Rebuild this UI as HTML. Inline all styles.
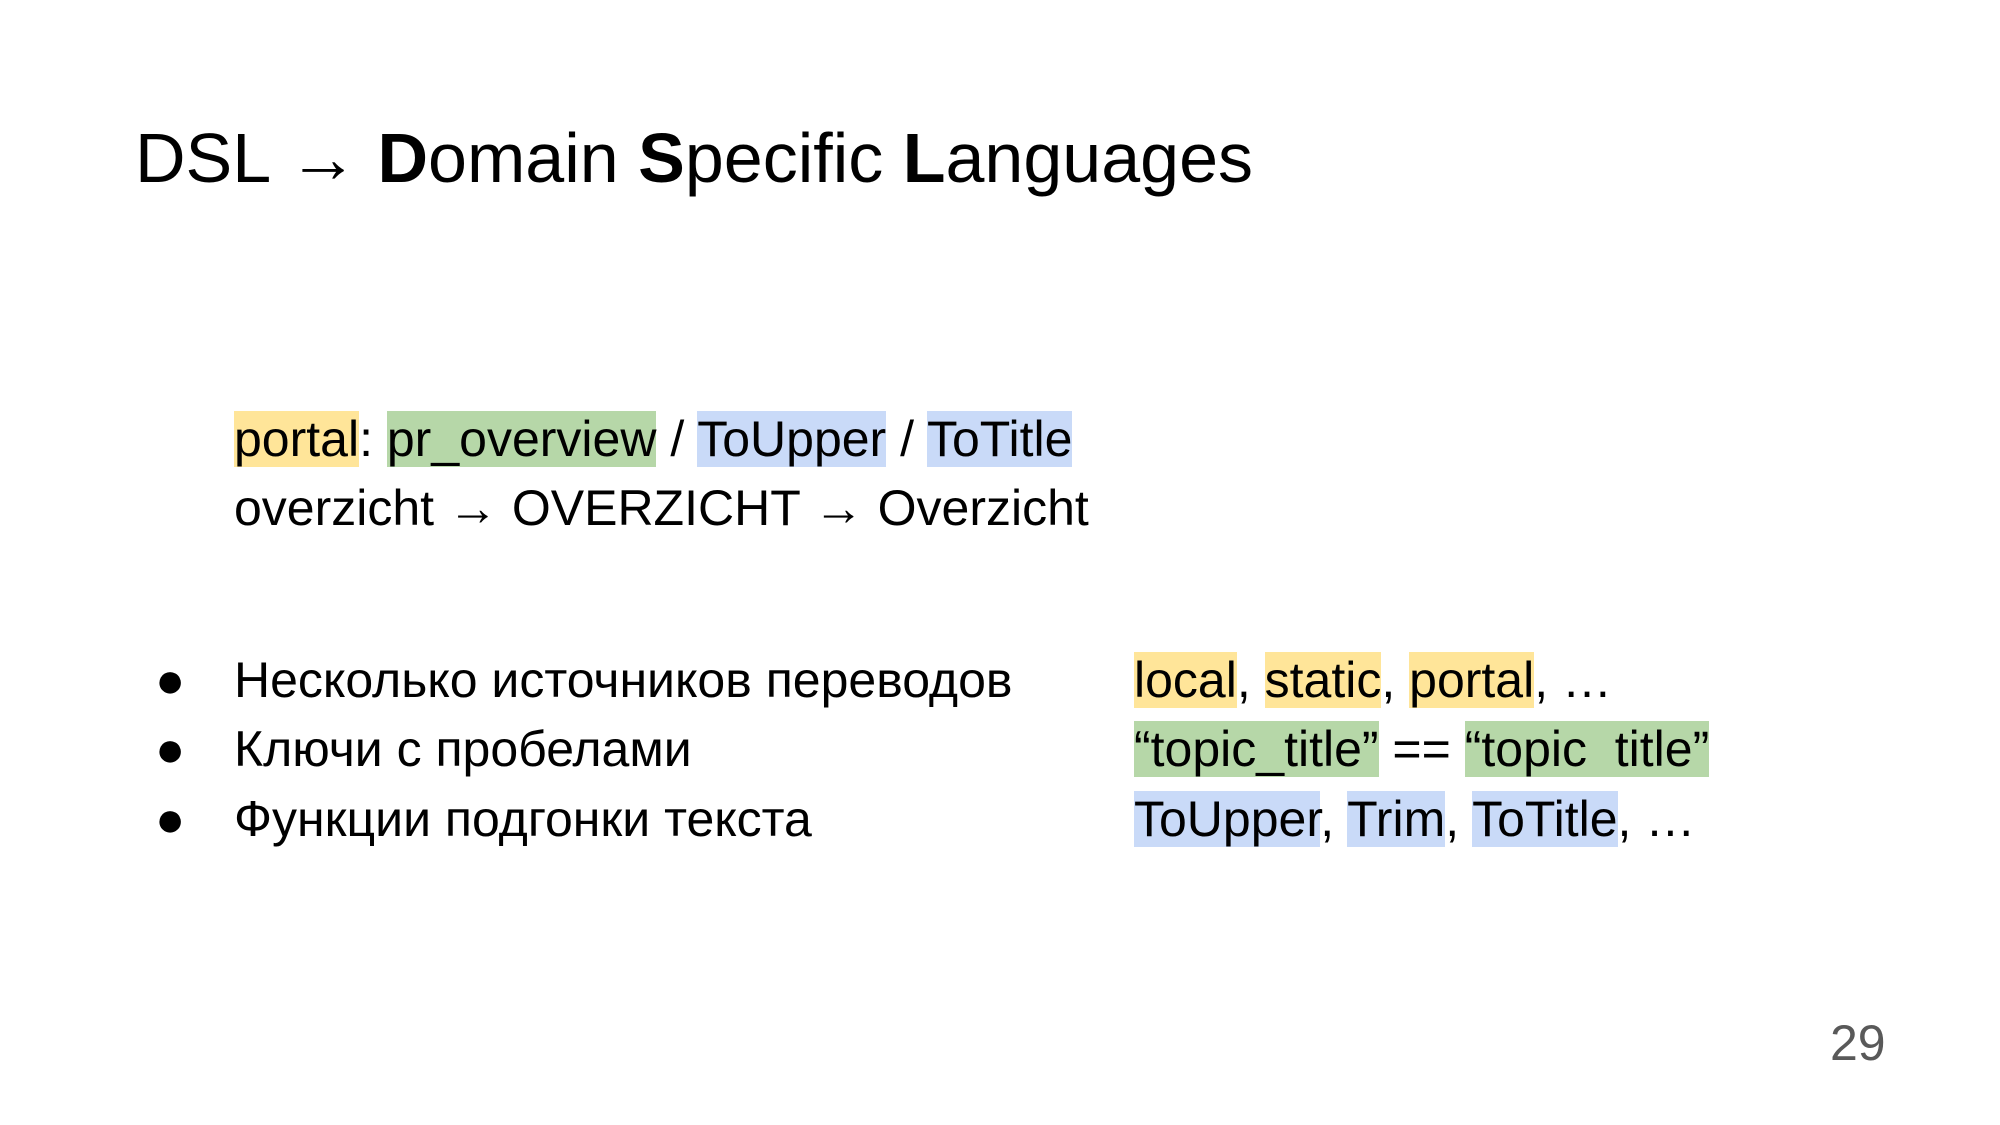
<!DOCTYPE html>
<html><head><meta charset="utf-8"><style>
body{margin:0;width:2000px;height:1125px;background:#fff;position:relative;overflow:hidden;font-family:"Liberation Sans",Arial,sans-serif;color:#000}
.l{position:absolute;font-size:50px;line-height:50px;white-space:pre}
.y{background:#ffe599}.g{background:#b6d7a8}.b{background:#c9daf8}
.t{position:absolute;left:135px;top:123px;font-size:70px;line-height:70px;white-space:pre}
</style></head><body>
<div class="t">DSL → <b>D</b>omain <b>S</b>pecific <b>L</b>anguages</div>
<div class="l" style="left:234px;top:414px"><span class="y">portal</span>: <span class="g">pr_overview</span> / <span class="b">ToUpper</span> / <span class="b">ToTitle</span></div>
<div class="l" style="left:234px;top:483px">overzicht → OVERZICHT → Overzicht</div>
<div class="l" style="left:155px;top:655px">●</div>
<div class="l" style="left:155px;top:724px">●</div>
<div class="l" style="left:155px;top:794px">●</div>
<div class="l" style="left:234px;top:655px">Несколько источников переводов</div>
<div class="l" style="left:234px;top:724px">Ключи с пробелами</div>
<div class="l" style="left:234px;top:794px">Функции подгонки текста</div>
<div class="l" style="left:1134px;top:655px"><span class="y">local</span>, <span class="y">static</span>, <span class="y">portal</span>, …</div>
<div class="l" style="left:1134px;top:724px"><span class="g">“topic_title”</span> == <span class="g">“topic  title”</span></div>
<div class="l" style="left:1134px;top:794px"><span class="b">ToUpper</span>, <span class="b">Trim</span>, <span class="b">ToTitle</span>, …</div>
<div class="l" style="left:1830px;top:1018px;color:#595959">29</div>
</body></html>
